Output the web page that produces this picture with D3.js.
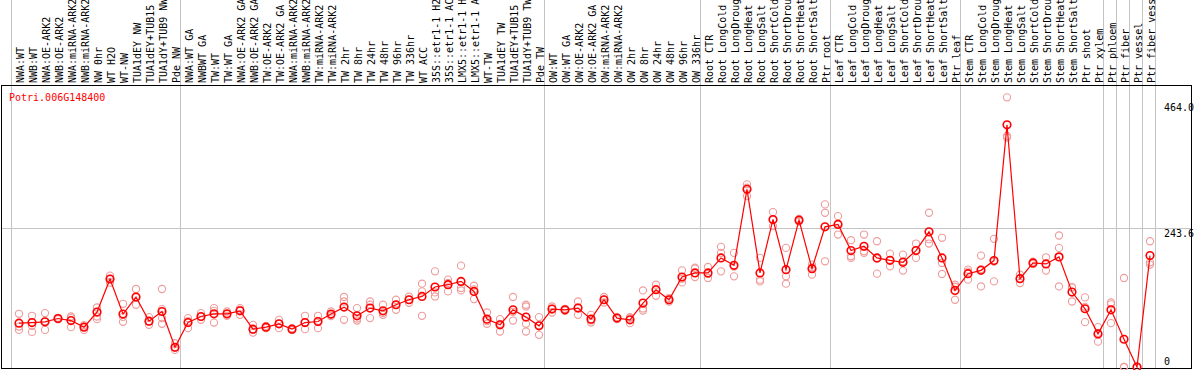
<!DOCTYPE html>
<html lang="en">
<head>
  <meta charset="UTF-8">
  <title>Potri.006G148400</title>
  <script src="https://d3js.org/d3.v7.min.js"></script>
  <style>
    * { margin: 0; padding: 0; }
    body { background: white; }
    svg { display: block; }
    text { font-family: "DejaVu Sans Mono", monospace; font-size: 10px; }
  </style>
</head>
<body>
  <div class="chart"></div>
  <script>
    var width = 1194;
    var height = 370;

    // sample names, one column each
    var labels = ['NWA:WT', 'NWB:WT', 'NWA:OE-ARK2', 'NWB:OE-ARK2', 'NWA:miRNA-ARK2', 'NWB:miRNA-ARK2',
      'NW 0hr', 'WT H2O', 'WT-NW', 'TUA1dEY NW', 'TUA1dEY+TUB15 NW', 'TUA1dY+TUB9 NW', 'Pde NW',
      'NWA:WT GA', 'NWBWT GA', 'TW:WT', 'TW:WT GA', 'NWA:OE-ARK2 GA', 'NWB:OE-ARK2 GA', 'TW:OE-ARK2',
      'TW:OE-ARK2 GA', 'NWA:miRNA-ARK2', 'NWB:miRNA-ARK2', 'TW:miRNA-ARK2', 'TW:miRNA-ARK2 GA',
      'TW 2hr', 'TW 8hr', 'TW 24hr', 'TW 48hr', 'TW 96hr', 'TW 336hr', 'WT ACC',
      '35S::etr1-1 H2O', '35S::etr1-1 ACC', 'LMX5::etr1-1 H2O', 'LMX5::etr1-1 ACC',
      'WT-TW', 'TUA1dEY TW', 'TUA1dEY+TUB15 TW', 'TUA1dY+TUB9 TW', 'Pde TW',
      'OW:WT', 'OW:WT GA', 'OW:OE-ARK2', 'OW:OE-ARK2 GA', 'OW:miRNA-ARK2', 'OW:miRNA-ARK2 GA',
      'OW 2hr', 'OW 8hr', 'OW 24hr', 'OW 48hr', 'OW 96hr', 'OW 336hr',
      'Root CTR', 'Root LongCold', 'Root LongDrought', 'Root LongHeat', 'Root LongSalt',
      'Root ShortCold', 'Root ShortDrought', 'Root ShortHeat', 'Root ShortSalt', 'Ptr root',
      'Leaf CTR', 'Leaf LongCold', 'Leaf LongDrought', 'Leaf LongHeat', 'Leaf LongSalt',
      'Leaf ShortCold', 'Leaf ShortDrought', 'Leaf ShortHeat', 'Leaf ShortSalt', 'Ptr leaf',
      'Stem CTR', 'Stem LongCold', 'Stem LongDrought', 'Stem LongHeat', 'Stem LongSalt',
      'Stem ShortCold', 'Stem ShortDrought', 'Stem ShortHeat', 'Stem ShortSalt', 'Ptr shoot', 'Ptr xylem',
      'Ptr phloem', 'Ptr fiber', 'Ptr vessel', 'Ptr fiber vessel'];

    // column index where each experiment group starts (plus the end)
    var groupBreaks = [0, 13, 41, 53, 63, 73, 84, 85, 86, 87, 88];

    // mean expression per sample
    var means = [76.6, 77.6, 78.9, 84.7, 81.1, 69.6, 95.9, 153.7, 92.4, 122.2, 80.1, 96.9, 34.5,
      77.6, 88.2, 92.9, 92.9, 98.1, 66.1, 69.6, 75.4, 66.1, 77.6, 79.4, 92.4, 104.6, 89.4, 102.9,
      98.1, 108.7, 117.4, 123.2, 139.7, 143.7, 149.5, 132.0, 83.6, 73.6, 99.9, 87.1, 71.9,
      101.1, 99.9, 102.9, 83.6, 117.4, 85.4, 82.4, 111.6, 134.9, 117.4, 157.2, 164.2,
      164.2, 190.5, 177.5, 310.2, 164.2, 257.6, 170.0, 256.4, 171.7, 244.8,
      248.9, 203.3, 210.8, 190.5, 186.3, 182.8, 203.3, 236.1, 190.5, 133.7,
      163.0, 168.8, 185.8, 422.9, 154.2, 181.7, 180.0, 192.3, 130.9, 101.7, 57.8,
      99.9, 48.5, 0, 194.5];

    // individual replicates per sample
    var reps = [[92.9, 70.6, 64.8], [89.4, 71.9, 61.3], [94.1, 64.8, 79.4], [85.9, 83.3, 84.7],
      [88.2, 69.6, 85.4], [73.1, 64.8, 70.6], [103.9, 83.6, 88.2], [159.5, 153.7, 147.2],
      [110.4, 78.9, 87.6], [136.2, 108.7, 121.5], [87.1, 73.6, 79.4], [136.2, 101.1, 85.4, 75.4],
      [41.5, 29.8, 33.3],
      [85.4, 67.8, 80.1], [94.1, 82.4, 87.6], [102.9, 77.6, 98.1], [96.9, 89.4, 92.4],
      [102.9, 91.1, 99.9], [73.6, 60.1, 64.8], [71.9, 67.8, 69.2], [82.4, 67.8, 75.4],
      [67.8, 64.3, 66.1], [89.4, 66.1, 77.6], [89.4, 67.8, 80.6], [96.9, 88.9, 91.1],
      [122.2, 114.4, 82.4], [102.9, 81.1, 84.7], [114.4, 85.4, 108.7], [108.7, 91.1, 94.6],
      [117.4, 99.9, 108.7], [112.2, 122.7, 117.4], [145.5, 132.0, 89.4], [167.0, 123.2, 130.2],
      [132.0, 146.7, 152.5], [177.0, 137.9, 133.7], [142.0, 118.6, 135.5], [95.2, 75.4, 80.1],
      [83.6, 61.9, 75.4], [122.2, 81.1, 96.4], [108.7, 105.7, 75.4, 61.9], [87.1, 56.1, 72.4],
      [105.7, 95.2, 101.8], [101.6, 98.1, 99.9], [114.4, 91.1, 103.9], [91.1, 77.6, 81.3],
      [122.2, 112.7, 117.4], [87.1, 83.6, 85.4], [76.6, 85.9, 87.1], [133.7, 98.7, 102.2],
      [143.7, 124.4, 136.2], [120.4, 114.4, 117.4], [168.8, 147.7, 154.2], [171.7, 157.2, 173.4],
      [174.7, 155.5, 162.5], [209.8, 199.3, 167.0], [199.3, 158.3, 175.3], [319.0, 298.5, 313.1],
      [190.5, 149.5, 152.5], [270.4, 245.9, 256.4], [208.0, 158.3, 145.5], [258.7, 254.1, 256.4],
      [178.8, 161.2, 174.0], [283.9, 269.4, 184.6], [263.4, 231.3, 250.6], [221.4, 193.3, 190.5],
      [231.3, 202.1, 199.3], [219.6, 163.0, 189.3], [198.0, 175.8, 185.8], [196.3, 168.3, 184.6],
      [215.6, 190.5, 203.8], [269.4, 215.6, 223.3], [225.6, 181.7, 162.5], [143.7, 117.4, 140.2],
      [170.0, 152.5, 166.5], [194.5, 140.7, 171.0], [223.8, 149.5, 184.1], [470.9, 400.8, 403.6],
      [161.2, 146.7, 154.7], [184.0, 179.6, 181.7], [191.6, 168.3, 180.0], [229.6, 208.0, 140.7],
      [139.0, 114.4, 139.3], [121.5, 78.3, 105.1], [69.6, 44.3, 59.6], [112.7, 76.6, 109.4],
      [155.5, 0, 0], [0, 0, 0], [219.6, 182.8, 178.8]];

    // right axis tick values
    var yTicks = [0, 243.6, 464.0];
    var yMax = 487.2;
    var title = 'Potri.006G148400';

    var svg = d3.select('.chart')
      .append('svg')
      .attr('width', width)
      .attr('height', height);

    var xScale = d3.scaleBand()
      .domain(d3.range(labels.length))
      .range([11, 11 + 13 * labels.length]);

    var yScale = d3.scaleLinear()
      .domain([0, yMax])
      .range([367, 88]);

    var px = function (i) { return xScale(i) + 8; };

    // group separators
    svg.selectAll('.sep')
      .data(groupBreaks)
      .enter()
      .append('line')
      .attr('class', 'sep')
      .attr('x1', function (d) { return xScale.step() * d + 11.5; })
      .attr('x2', function (d) { return xScale.step() * d + 11.5; })
      .attr('y1', 0)
      .attr('y2', 369)
      .attr('stroke', '#c4c4c4')
      .attr('stroke-width', 1);

    // middle grid line
    svg.append('line')
      .attr('x1', 1)
      .attr('x2', 1192)
      .attr('y1', Math.round(yScale(yTicks[1])) + 0.5)
      .attr('y2', Math.round(yScale(yTicks[1])) + 0.5)
      .attr('stroke', '#c4c4c4');

    // plot frame
    svg.append('rect')
      .attr('x', 1.5)
      .attr('y', 85.5)
      .attr('width', 1190)
      .attr('height', 283)
      .attr('fill', 'none')
      .attr('stroke', 'black')
      .attr('stroke-width', 1);

    // column labels, read bottom to top
    var labG = svg.selectAll('.lab')
      .data(labels)
      .enter()
      .append('g')
      .attr('class', 'lab')
      .attr('transform', function (d, i) {
        return 'translate(' + (xScale(i) + 12.5) + ',83)';
      });

    labG.append('text')
      .attr('x', 0)
      .attr('y', 0)
      .attr('transform', 'rotate(-90)')
      .style('text-anchor', 'start')
      .attr('fill', 'black')
      .text(function (d) { return d; });

    // title
    svg.append('text')
      .attr('x', 9)
      .attr('y', 101)
      .attr('fill', 'red')
      .text(title);

    // right axis
    var yAxis = d3.axisRight(yScale)
      .tickValues(yTicks)
      .tickSize(0)
      .tickFormat(function (d) { return d === 0 ? '0' : d.toFixed(1); });

    var axisG = svg.append('g')
      .attr('transform', 'translate(1161,0)')
      .call(yAxis);
    axisG.select('.domain').remove();
    axisG.selectAll('text')
      .attr('fill', 'black')
      .style('font-family', '"DejaVu Sans Mono", monospace')
      .style('font-size', '10px')
      .attr('dy', function (d) { return d === 0 ? '-0.3em' : '0.9em'; });

    // replicate points
    var repPts = [];
    reps.forEach(function (r, i) {
      r.forEach(function (v) { repPts.push([i, v]); });
    });

    svg.selectAll('.rep')
      .data(repPts)
      .enter()
      .append('circle')
      .attr('class', 'rep')
      .attr('cx', function (d) { return px(d[0]); })
      .attr('cy', function (d) { return yScale(d[1]); })
      .attr('r', 3.6)
      .attr('fill', 'none')
      .attr('stroke', '#ee9c9c')
      .attr('stroke-width', 1.1);

    // mean line
    var line = d3.line()
      .x(function (d, i) { return px(i); })
      .y(function (d) { return yScale(d); });

    svg.append('path')
      .attr('d', line(means))
      .attr('fill', 'none')
      .attr('stroke', 'red')
      .attr('stroke-width', 1.2);

    svg.selectAll('.mean')
      .data(means)
      .enter()
      .append('circle')
      .attr('class', 'mean')
      .attr('cx', function (d, i) { return px(i); })
      .attr('cy', function (d) { return yScale(d); })
      .attr('r', 3.8)
      .attr('fill', 'none')
      .attr('stroke', 'red')
      .attr('stroke-width', 1.6);
  </script>
</body>
</html>
